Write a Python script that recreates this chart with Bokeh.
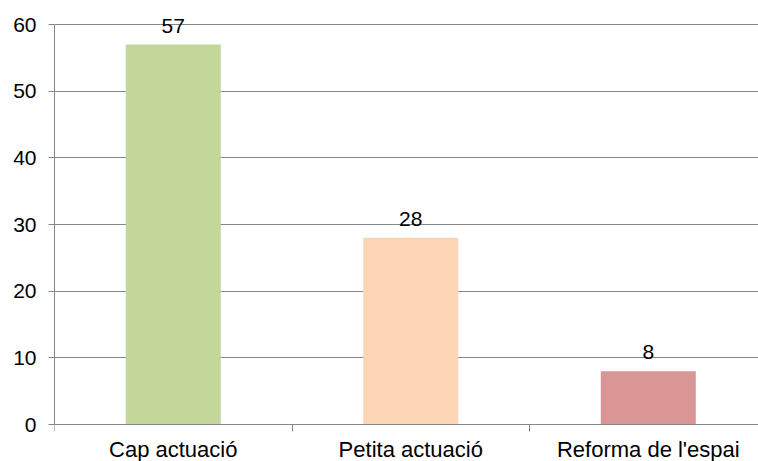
from bokeh.plotting import figure
from bokeh.models import ColumnDataSource, LabelSet, FixedTicker, Range1d
from bokeh.core.properties import value
from bokeh.embed import file_html
from bokeh.resources import INLINE

categories = ["Cap actuació", "Petita actuació", "Reforma de l'espai"]
values = [57, 28, 8]
bar_colors = ["#C4D79B", "#FCD5B5", "#DA9694"]
y_ticks = [0, 10, 20, 30, 40, 50, 60]

FONT = "Liberation Sans"
GRID = "#868686"

xs = [i + 0.5 for i in range(len(categories))]
src = ColumnDataSource(dict(x=xs, top=values, color=bar_colors,
                            label=[str(v) for v in values]))

p = figure(width=758, height=461, output_backend="svg", toolbar_location=None,
           x_range=Range1d(0, 2.964), y_range=Range1d(-5.55, 63.6),
           min_border_left=54, min_border_right=0, min_border_top=0,
           min_border_bottom=0)
p.outline_line_color = None
p.background_fill_color = "white"
p.border_fill_color = "white"

p.vbar(x="x", top="top", width=0.4, bottom=0, fill_color="color",
       line_color=None, source=src)

p.add_layout(LabelSet(x="x", y="top", text="label", source=src,
                      y_offset=12, text_align="center",
                      text_baseline="alphabetic", text_font=value(FONT),
                      text_font_size="21px", text_color="#000000"))

p.xaxis.fixed_location = 0
p.xaxis.ticker = FixedTicker(ticks=xs, minor_ticks=[0, 1, 2, 3])
p.xaxis.major_label_overrides = {x: c for x, c in zip(xs, categories)}
p.xaxis.major_tick_out = 0
p.xaxis.major_tick_in = 0
p.xaxis.minor_tick_out = 7
p.xaxis.minor_tick_in = 0
p.xaxis.minor_tick_line_color = GRID
p.xaxis.axis_line_color = GRID
p.xaxis.major_label_text_font = FONT
p.xaxis.major_label_text_font_size = "22px"
p.xaxis.major_label_text_color = "#000000"
p.xaxis.major_label_standoff = 5

p.yaxis.ticker = FixedTicker(ticks=y_ticks)
p.yaxis.bounds = (0, 60)
p.yaxis.major_tick_out = 6
p.yaxis.major_tick_in = 0
p.yaxis.minor_tick_line_color = None
p.yaxis.major_tick_line_color = GRID
p.yaxis.axis_line_color = GRID
p.yaxis.major_label_text_font = FONT
p.yaxis.major_label_text_font_size = "21px"
p.yaxis.major_label_text_color = "#000000"
p.yaxis.major_label_standoff = 12

p.xgrid.grid_line_color = None
p.ygrid.ticker = FixedTicker(ticks=y_ticks)
p.ygrid.grid_line_color = GRID
p.ygrid.grid_line_width = 1

open("out.html", "w").write(file_html(p, INLINE))
